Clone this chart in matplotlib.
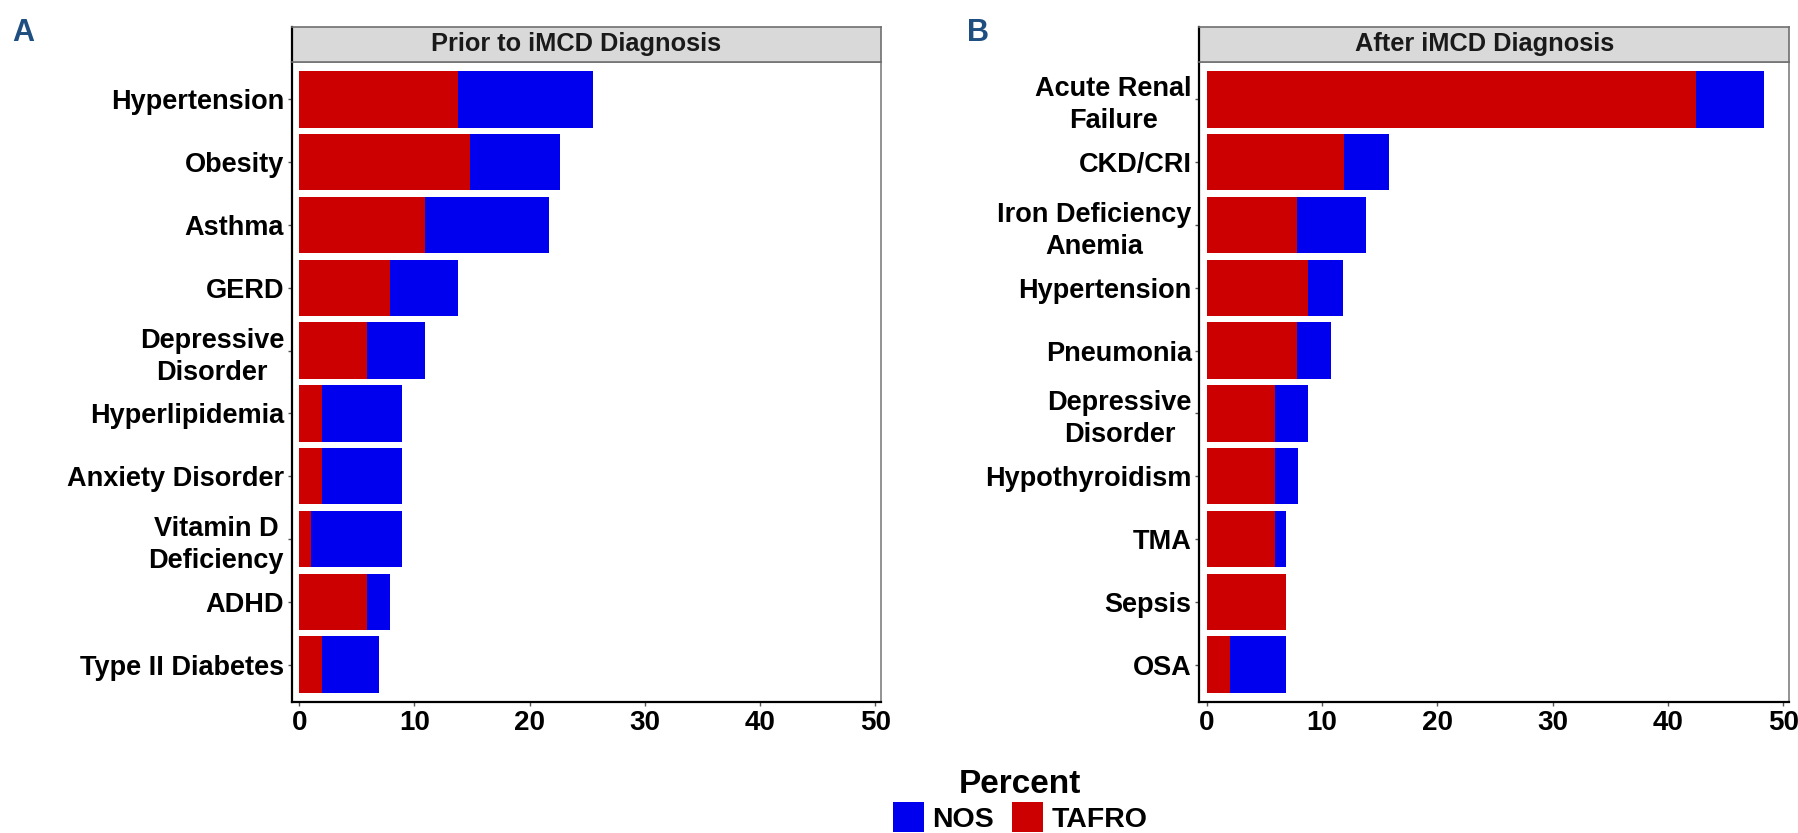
import matplotlib
matplotlib.use("Agg")
import matplotlib.pyplot as plt
from matplotlib.patches import Patch
import numpy as np

plt.rcParams['font.family'] = ['Liberation Sans', 'DejaVu Sans']
plt.rcParams['font.weight'] = 'bold'

# panel A - prior to iMCD diagnosis
cats_a = ["Hypertension", "Obesity", "Asthma", "GERD", "Depressive\nDisorder",
          "Hyperlipidemia", "Anxiety Disorder", "Vitamin D\nDeficiency", "ADHD",
          "Type II Diabetes"]
tafro_a = [13.8, 14.8, 10.9, 7.9, 5.9, 2.0, 2.0, 1.0, 5.9, 2.0]
nos_a = [11.7, 7.8, 10.8, 5.9, 5.0, 6.9, 6.9, 7.9, 2.0, 4.9]

# panel B - after iMCD diagnosis
cats_b = ["Acute Renal\nFailure", "CKD/CRI", "Iron Deficiency\nAnemia", "Hypertension",
          "Pneumonia", "Depressive\nDisorder", "Hypothyroidism", "TMA", "Sepsis", "OSA"]
tafro_b = [42.4, 11.9, 7.8, 8.8, 7.8, 5.9, 5.9, 5.9, 6.9, 2.0]
nos_b = [5.9, 3.9, 6.0, 3.0, 3.0, 2.9, 2.0, 1.0, 0.0, 4.9]

titles = ["Prior to iMCD Diagnosis", "After iMCD Diagnosis"]
xticks = [0, 10, 20, 30, 40, 50]

RED = "#CC0000"
BLUE = "#0000EE"
W, H = 1799, 833

fig = plt.figure(figsize=(W / 100, H / 100), dpi=100)

def px(x0, y0, x1, y1):
    # pixel box (top-left origin) -> figure fraction rect
    return [x0 / W, 1 - y1 / H, (x1 - x0) / W, (y1 - y0) / H]

panels = [
    (px(291.7, 61.7, 881, 702.3), px(291.7, 26.7, 881, 61.7), cats_a, tafro_a, nos_a),
    (px(1199.3, 61.7, 1789, 702.3), px(1199.3, 26.7, 1789, 61.7), cats_b, tafro_b, nos_b),
]

for k, (rect, srect, cats, tafro, nos) in enumerate(panels):
    ax = fig.add_axes(rect)
    y = np.arange(len(cats))[::-1]
    ax.barh(y, tafro, height=0.9, color=RED, linewidth=0)
    ax.barh(y, nos, left=tafro, height=0.9, color=BLUE, linewidth=0)
    ax.set_ylim(-0.6, len(cats) - 0.4)
    ax.set_xlim(-0.65, 50.5)
    ax.set_yticks(y)
    ax.set_yticklabels(cats, fontsize=19.5, fontweight='bold', linespacing=1.3)
    for lbl in ax.get_yticklabels():
        lbl.set_multialignment('center')
    ax.set_xticks(xticks)
    ax.set_xticklabels([str(t) for t in xticks], fontsize=20, fontweight='bold')
    ax.tick_params(axis='both', length=3, width=1, color='#555555', pad=2.5)
    for s in ['top', 'right']:
        ax.spines[s].set_color('#808080')
        ax.spines[s].set_linewidth(1.2)
    for s in ['left', 'bottom']:
        ax.spines[s].set_color('black')
        ax.spines[s].set_linewidth(1.6)

    # facet strip
    sax = fig.add_axes(srect)
    sax.set_facecolor('#D9D9D9')
    sax.set_xticks([])
    sax.set_yticks([])
    for s in sax.spines.values():
        s.set_color('#707070')
        s.set_linewidth(1.2)
    sax.spines['left'].set_color('black')
    sax.spines['left'].set_linewidth(1.6)
    sax.text(0.483, 0.30, titles[k], transform=sax.transAxes, ha='center', va='baseline',
             fontsize=18.3, fontweight='bold', color='#1a1a1a')

# panel letters
fig.text(12 / W, 1 - 41 / H, "A", fontsize=22, fontweight='bold', color='#1F4E80')
fig.text(967 / W, 1 - 41 / H, "B", fontsize=22, fontweight='bold', color='#1F4E80')

# legend
fig.text(1020 / W, 1 - 793 / H, "Percent", ha='center', va='baseline',
         fontsize=24, fontweight='bold')
handles = [Patch(facecolor=BLUE, edgecolor='none', label='NOS'),
           Patch(facecolor=RED, edgecolor='none', label='TAFRO')]
leg = fig.legend(handles=handles, loc='upper center', bbox_to_anchor=(1020 / W, 1 - 802 / H),
                 ncol=2, frameon=False, fontsize=20.5,
                 handlelength=1.1, handleheight=1.25, handletextpad=0.27,
                 columnspacing=0.65, borderpad=0, borderaxespad=0)

fig.savefig("out.png", dpi=100)
